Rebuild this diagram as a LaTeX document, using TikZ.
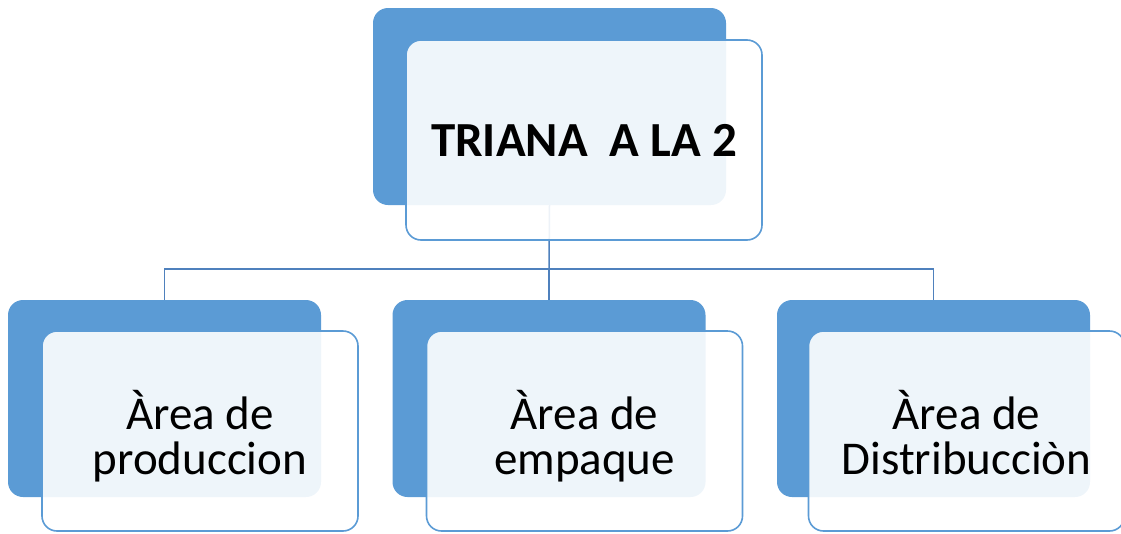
\documentclass[tikz,border=0pt]{standalone}
\usepackage{fontspec}
\setmainfont{Carlito}
\definecolor{officeblue}{HTML}{5B9BD5}
\definecolor{linkblue}{HTML}{4F81BD}
\newcommand{\topfix}{\rule{0pt}{56pt}}
\newcommand{\botfix}{\rule[-15pt]{0pt}{15pt}}
\begin{document}
\begin{tikzpicture}[x=1pt,y=-1pt,
  backbox/.style={fill=officeblue, rounded corners=15pt, inner sep=0pt, draw=none},
  frontbox/.style={draw=officeblue, line width=1.6pt, fill=white, fill opacity=0.9, text opacity=1,
     rounded corners=15pt, inner sep=0pt, align=center},
  toptext/.style={font=\fontsize{49}{54}\selectfont\bfseries},
  subtext/.style={font=\fontsize{47}{45}\selectfont},
  link/.style={draw=linkblue, line width=1.5pt}
]
\useasboundingbox (0,0) rectangle (1121,533);
% top
\node[backbox, minimum width=353pt, minimum height=197pt] (topback) at (549.5,106.5) {};
\coordinate (j) at (549,269);
\draw[link] (topback.south) -- (j);
\node[frontbox, minimum width=356pt, minimum height=200pt, toptext] (topfront) at (584,140) {TRIANA\ \ A LA 2};
% bottom backs
\node[backbox, minimum width=313pt, minimum height=197pt] (b1back) at (164.5,398.5) {};
\node[backbox, minimum width=313pt, minimum height=197pt] (b2back) at (549,398.5) {};
\node[backbox, minimum width=313pt, minimum height=197pt] (b3back) at (933.5,398.5) {};
\draw[link] (j) -| (b1back.north);
\draw[link] (j) -| (b3back.north);
\draw[link] (j) -- (b2back.north);
% bottom fronts
\node[frontbox, minimum width=316pt, minimum height=200pt, subtext] (b1front) at (200,431) {\topfix Àrea de\\produccion\botfix};
\node[frontbox, minimum width=316pt, minimum height=200pt, subtext] (b2front) at (584.5,431) {\topfix Àrea de\\empaque\botfix};
\node[frontbox, minimum width=316pt, minimum height=200pt, subtext] (b3front) at (966.5,431) {\topfix Àrea de\\Distribucciòn\botfix};
\end{tikzpicture}
\end{document}
